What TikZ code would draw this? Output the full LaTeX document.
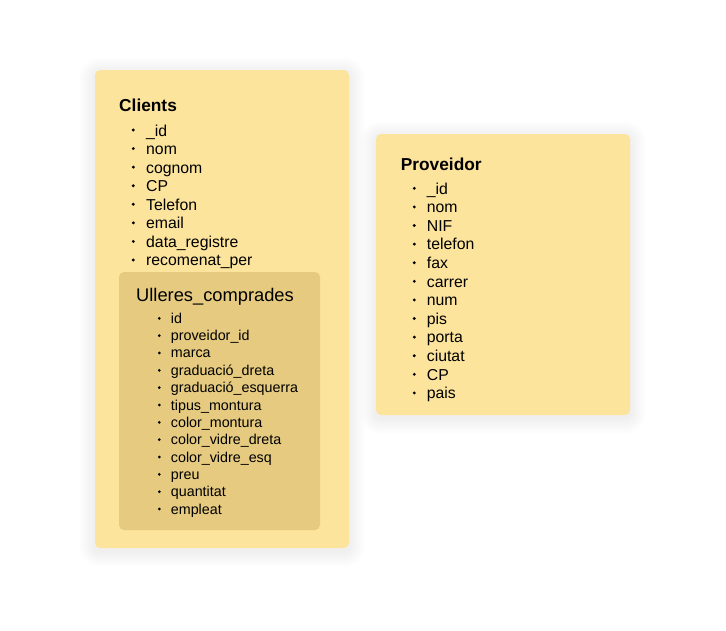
\documentclass[tikz,border=0pt]{standalone}
\usepackage{fontspec}
\setmainfont{Liberation Sans}
\usetikzlibrary{positioning}

\definecolor{cardyellow}{HTML}{FCE49C}
\definecolor{nestedyellow}{HTML}{E5CA7F}

\begin{document}
\begin{tikzpicture}[x=1pt, y=-1pt]
    \tikzstyle{card}=[fill=cardyellow, rounded corners=5pt]
    \tikzstyle{nested}=[fill=nestedyellow, rounded corners=5pt]
    \tikzstyle{title}=[anchor=base west, inner sep=0pt, font=\fontsize{17.3pt}{20pt}\selectfont\bfseries]
    \tikzstyle{subtitle}=[anchor=base west, inner sep=0pt, font=\fontsize{18.3pt}{21pt}\selectfont]
    \tikzstyle{field}=[anchor=base west, inner sep=0pt, font=\fontsize{15.8pt}{19pt}\selectfont]
    \tikzstyle{smallfield}=[anchor=base west, inner sep=0pt, font=\fontsize{14.3pt}{17pt}\selectfont]

    \useasboundingbox (0,0) rectangle (726,630);

    % soft shadows
    \foreach \s in {1,...,16} {
        \fill[black, opacity=0.004, rounded corners=5pt+\s pt] (95-\s,70-\s+3) rectangle (349+\s,548+\s+3);
        \fill[black, opacity=0.004, rounded corners=5pt+\s pt] (376-\s,134-\s+3) rectangle (630+\s,415+\s+3);
    }

    % cards
    \path[card] (95,70) rectangle (349,548);
    \path[nested] (119,272) rectangle (320,530);
    \path[card] (376,134) rectangle (630,415);

    % Clients
    \node[title] (clients) at (119,111) {Clients};
    \foreach \t [count=\i] in {\_id, nom, cognom, CP, Telefon, email, data\_registre, recomenat\_per} {
        \node[field] (c\i) at (146,136+18.57*\i-18.57) {\t};
        \fill (133.3,130+18.57*\i-18.57) circle (1.6pt);
    }

    % Ulleres_comprades
    \node[subtitle] (ulleres) at (136,301) {Ulleres\_comprades};
    \foreach \t [count=\i] in {id, proveidor\_id, marca, graduació\_dreta, graduació\_esquerra, tipus\_montura, color\_montura, color\_vidre\_dreta, color\_vidre\_esq, preu, quantitat, empleat} {
        \node[smallfield] (u\i) at (170.7,323.3+17.34*\i-17.34) {\t};
        \fill (159.3,318.3+17.34*\i-17.34) circle (1.5pt);
    }

    % Proveidor
    \node[title] (proveidor) at (400.7,170) {Proveidor};
    \foreach \t [count=\i] in {\_id, nom, NIF, telefon, fax, carrer, num, pis, porta, ciutat, CP, pais} {
        \node[field] (p\i) at (426.7,194+18.6*\i-18.6) {\t};
        \fill (414.3,188.3+18.6*\i-18.6) circle (1.6pt);
    }
\end{tikzpicture}
\end{document}
